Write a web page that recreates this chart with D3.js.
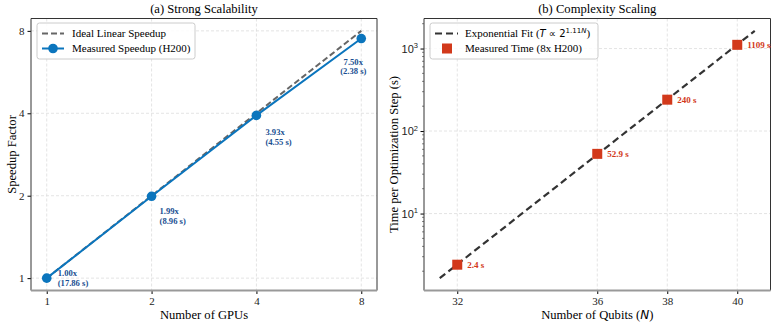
<!DOCTYPE html>
<html>
<head>
<meta charset="utf-8">
<script src="https://cdn.jsdelivr.net/npm/d3@7"></script>
<style>
  body { margin: 0; background: #fff; }
  svg { display: block; font-family: "Liberation Serif", "DejaVu Serif", serif; }
  .grid line { stroke: #ddd; stroke-dasharray: 3,2; stroke-width: 0.8; }
  .tick text { fill: #222; }
</style>
</head>
<body>
<div id="chart"></div>
<script>
// panel (a)
var gpus = [1, 2, 4, 8];
var speedup = [1.00, 1.99, 3.93, 7.50];
var stepTimes = [17.86, 8.96, 4.55, 2.38];
var idealSpeedup = [1, 2, 4, 8];
// panel (b)
var qubits = [32, 36, 38, 40];
var qubitTimes = [2.4, 52.9, 240, 1109];
var qubitTicks = [32, 36, 38, 40];
var timeTicks = [10, 100, 1000];

var blue = "#0b75bd", blueText = "#1a4f92", red = "#d2391b";
var tickFont = 11, labelFont = 12.6, legendFont = 11;

var svg = d3.select("#chart").append("svg").attr("width", 777).attr("height", 328);

function styleTicks(g) {
  g.select(".domain").remove();
  g.selectAll("text").attr("font-size", tickFont).attr("font-family", "Liberation Serif");
}

// ---------- (a) Strong Scalability ----------
var a = { left: 31, right: 377, top: 18.5, bottom: 290.5 };
var xa = d3.scaleLog().base(2).domain([Math.pow(2, -0.15), Math.pow(2, 3.15)]).range([a.left, a.right]);
var ya = d3.scaleLog().base(2).domain([Math.pow(2, -0.15), Math.pow(2, 3.15)]).range([a.bottom, a.top]);

var ga = svg.append("g");
ga.append("g").attr("class", "grid").selectAll("line").data(gpus).enter().append("line")
  .attr("x1", function(d){ return xa(d); }).attr("x2", function(d){ return xa(d); })
  .attr("y1", a.top).attr("y2", a.bottom);
ga.append("g").attr("class", "grid").selectAll("line").data(idealSpeedup).enter().append("line")
  .attr("y1", function(d){ return ya(d); }).attr("y2", function(d){ return ya(d); })
  .attr("x1", a.left).attr("x2", a.right);

ga.append("g").attr("transform", "translate(0," + a.bottom + ")")
  .call(d3.axisBottom(xa).tickValues(gpus).tickFormat(d3.format("d")).tickSizeOuter(0).tickSize(3.5))
  .call(styleTicks);
ga.append("g").attr("transform", "translate(" + a.left + ",0)")
  .call(d3.axisLeft(ya).tickValues(idealSpeedup).tickFormat(d3.format("d")).tickSizeOuter(0).tickSize(3.5))
  .call(styleTicks);

ga.append("path").attr("d", "M" + a.left + "," + a.bottom + "V" + a.top + "H" + a.right + "V" + a.bottom)
  .attr("fill", "none").attr("stroke", "#333").attr("stroke-width", 1);
ga.append("line").attr("x1", a.left).attr("x2", a.right).attr("y1", a.bottom).attr("y2", a.bottom).attr("stroke", "#999").attr("stroke-width", 2);

ga.append("path").datum(gpus)
  .attr("d", d3.line().x(function(d){ return xa(d); }).y(function(d, i){ return ya(idealSpeedup[i]); }))
  .attr("fill", "none").attr("stroke", "#666").attr("stroke-width", 2).attr("stroke-dasharray", "6,3");
ga.append("path").datum(gpus)
  .attr("d", d3.line().x(function(d){ return xa(d); }).y(function(d, i){ return ya(speedup[i]); }))
  .attr("fill", "none").attr("stroke", blue).attr("stroke-width", 2);
ga.selectAll("circle.pt").data(gpus).enter().append("circle").attr("class", "pt")
  .attr("cx", function(d){ return xa(d); }).attr("cy", function(d, i){ return ya(speedup[i]); })
  .attr("r", 4.8).attr("fill", blue);

// label placement relative to each marker
var labOff = [[11, -5, "start"], [8, 15, "start"], [9, 17, "start"], [-8, 23, "middle"]];
var labs = ga.selectAll("text.lab").data(gpus).enter().append("text").attr("class", "lab")
  .attr("x", function(d, i){ return xa(d) + labOff[i][0]; })
  .attr("y", function(d, i){ return ya(speedup[i]) + labOff[i][1]; })
  .attr("text-anchor", function(d, i){ return labOff[i][2]; })
  .attr("font-size", 8.6).attr("font-weight", "bold").attr("fill", blueText);
labs.append("tspan").attr("dy", "0.35em").text(function(d, i){ return speedup[i].toFixed(2) + "x"; });
labs.append("tspan").attr("x", function(d, i){ return xa(d) + labOff[i][0]; }).attr("dy", "1.15em")
  .text(function(d, i){ return "(" + stepTimes[i].toFixed(2) + " s)"; });

// legend
var la = ga.append("g").attr("transform", "translate(37,23)");
la.append("rect").attr("width", 158).attr("height", 36).attr("rx", 2.5).attr("fill", "#fff").attr("fill-opacity", 0.85).attr("stroke", "#ccc");
la.append("line").attr("x1", 5).attr("x2", 27).attr("y1", 10.5).attr("y2", 10.5).attr("stroke", "#666").attr("stroke-width", 2).attr("stroke-dasharray", "6,3");
la.append("line").attr("x1", 5).attr("x2", 27).attr("y1", 25.5).attr("y2", 25.5).attr("stroke", blue).attr("stroke-width", 2);
la.append("circle").attr("cx", 16).attr("cy", 25.5).attr("r", 4.8).attr("fill", blue);
la.append("text").attr("x", 35).attr("y", 14.3).attr("font-size", legendFont).text("Ideal Linear Speedup");
la.append("text").attr("x", 35).attr("y", 29.3).attr("font-size", legendFont).text("Measured Speedup (H200)");

svg.append("text").attr("x", (a.left + a.right) / 2).attr("y", 13).attr("text-anchor", "middle").attr("font-size", labelFont).text("(a) Strong Scalability");
svg.append("text").attr("x", (a.left + a.right) / 2).attr("y", 319).attr("text-anchor", "middle").attr("font-size", labelFont).text("Number of GPUs");
svg.append("text").attr("transform", "translate(16," + (a.top + a.bottom) / 2 + ") rotate(-90)").attr("text-anchor", "middle").attr("font-size", labelFont).text("Speedup Factor");

// ---------- (b) Complexity Scaling ----------
var b = { left: 424, right: 770.5, top: 18.5, bottom: 290.5 };
var fitN = [d3.min(qubits) - 0.5, d3.max(qubits) + 0.5];
var logT = qubitTimes.map(function(t){ return Math.log2(t); });
var mN = d3.mean(qubits), mL = d3.mean(logT);
var slope = d3.sum(qubits, function(n, i){ return (n - mN) * (logT[i] - mL); }) / d3.sum(qubits, function(n){ return (n - mN) * (n - mN); });
var fitT = fitN.map(function(n){ return Math.pow(2, mL + slope * (n - mN)); });

var xPad = (fitN[1] - fitN[0]) * 0.05;
var xb = d3.scaleLinear().domain([fitN[0] - xPad, fitN[1] + xPad]).range([b.left, b.right]);
var lo = Math.log10(fitT[0]), hi = Math.log10(fitT[1]), yPad = (hi - lo) * 0.05;
var yb = d3.scaleLog().domain([Math.pow(10, lo - yPad), Math.pow(10, hi + yPad)]).range([b.bottom, b.top]);

var gb = svg.append("g");
gb.append("g").attr("class", "grid").selectAll("line").data(qubitTicks).enter().append("line")
  .attr("x1", function(d){ return xb(d); }).attr("x2", function(d){ return xb(d); })
  .attr("y1", b.top).attr("y2", b.bottom);
gb.append("g").attr("class", "grid").selectAll("line").data(timeTicks).enter().append("line")
  .attr("y1", function(d){ return yb(d); }).attr("y2", function(d){ return yb(d); })
  .attr("x1", b.left).attr("x2", b.right);

gb.append("g").attr("transform", "translate(0," + b.bottom + ")")
  .call(d3.axisBottom(xb).tickValues(qubitTicks).tickFormat(d3.format("d")).tickSizeOuter(0).tickSize(3.5))
  .call(styleTicks);

var minor = yb.ticks().filter(function(d){ return timeTicks.indexOf(d) < 0; });
var yAx = gb.append("g").attr("transform", "translate(" + b.left + ",0)");
yAx.call(d3.axisLeft(yb).tickValues(timeTicks).tickFormat("").tickSizeOuter(0).tickSize(3.5))
  .call(function(g){ g.select(".domain").remove(); });
yAx.selectAll("line.minor").data(minor).enter().append("line").attr("class", "minor")
  .attr("x1", -2).attr("x2", 0).attr("y1", function(d){ return yb(d); }).attr("y2", function(d){ return yb(d); })
  .attr("stroke", "#333").attr("stroke-width", 0.6);
var yLab = yAx.selectAll("text.exp").data(timeTicks).enter().append("text").attr("class", "exp")
  .attr("x", -6).attr("y", function(d){ return yb(d) + 4; }).attr("text-anchor", "end")
  .attr("font-size", tickFont).attr("fill", "#222");
yLab.append("tspan").text("10");
yLab.append("tspan").attr("dy", -4.5).attr("font-size", 7.5).text(function(d){ return Math.round(Math.log10(d)); });

gb.append("path").attr("d", "M" + b.left + "," + b.bottom + "V" + b.top + "H" + b.right + "V" + b.bottom)
  .attr("fill", "none").attr("stroke", "#333").attr("stroke-width", 1);
gb.append("line").attr("x1", b.left).attr("x2", b.right).attr("y1", b.bottom).attr("y2", b.bottom).attr("stroke", "#999").attr("stroke-width", 2);

gb.append("path").datum(fitN)
  .attr("d", d3.line().x(function(d){ return xb(d); }).y(function(d, i){ return yb(fitT[i]); }))
  .attr("fill", "none").attr("stroke", "#333").attr("stroke-width", 2.2).attr("stroke-dasharray", "7,4");
gb.selectAll("rect.pt").data(qubits).enter().append("rect").attr("class", "pt")
  .attr("x", function(d){ return xb(d) - 5; }).attr("y", function(d, i){ return yb(qubitTimes[i]) - 5; })
  .attr("width", 10).attr("height", 10).attr("fill", red);
gb.selectAll("text.lab").data(qubits).enter().append("text").attr("class", "lab")
  .attr("x", function(d){ return xb(d) + 10; }).attr("y", function(d, i){ return yb(qubitTimes[i]); })
  .attr("dy", "0.35em").attr("font-size", 9).attr("font-weight", "bold").attr("fill", red)
  .text(function(d, i){ return qubitTimes[i] + " s"; });

var lb = gb.append("g").attr("transform", "translate(430,23)");
lb.append("rect").attr("width", 168).attr("height", 36).attr("rx", 2.5).attr("fill", "#fff").attr("fill-opacity", 0.85).attr("stroke", "#ccc");
lb.append("line").attr("x1", 5).attr("x2", 28).attr("y1", 10.5).attr("y2", 10.5).attr("stroke", "#333").attr("stroke-width", 2.2).attr("stroke-dasharray", "7,4");
lb.append("rect").attr("x", 12).attr("y", 20.5).attr("width", 10).attr("height", 10).attr("fill", red);
var t1 = lb.append("text").attr("x", 35).attr("y", 14.3).attr("font-size", legendFont);
t1.append("tspan").text("Exponential Fit (");
t1.append("tspan").attr("font-family", "DejaVu Sans").attr("font-style", "italic").attr("font-size", 10).text("T");
t1.append("tspan").attr("font-family", "DejaVu Sans").attr("font-size", 10).text(" \u221D 2");
t1.append("tspan").attr("font-family", "DejaVu Sans").attr("font-size", 7).attr("dy", -4).text("1.11");
t1.append("tspan").attr("font-family", "DejaVu Sans").attr("font-style", "italic").attr("font-size", 7).text("N");
t1.append("tspan").attr("dy", 4).text(")");
lb.append("text").attr("x", 35).attr("y", 29.3).attr("font-size", legendFont).text("Measured Time (8x H200)");

svg.append("text").attr("x", (b.left + b.right) / 2).attr("y", 13).attr("text-anchor", "middle").attr("font-size", labelFont).text("(b) Complexity Scaling");
var xl = svg.append("text").attr("x", (b.left + b.right) / 2).attr("y", 319).attr("text-anchor", "middle").attr("font-size", labelFont);
xl.append("tspan").text("Number of Qubits (");
xl.append("tspan").attr("font-family", "DejaVu Sans").attr("font-style", "italic").attr("font-size", 12).text("N");
xl.append("tspan").text(")");
svg.append("text").attr("transform", "translate(398," + (b.top + b.bottom) / 2 + ") rotate(-90)").attr("text-anchor", "middle").attr("font-size", labelFont).text("Time per Optimization Step (s)");
</script>
</body>
</html>
